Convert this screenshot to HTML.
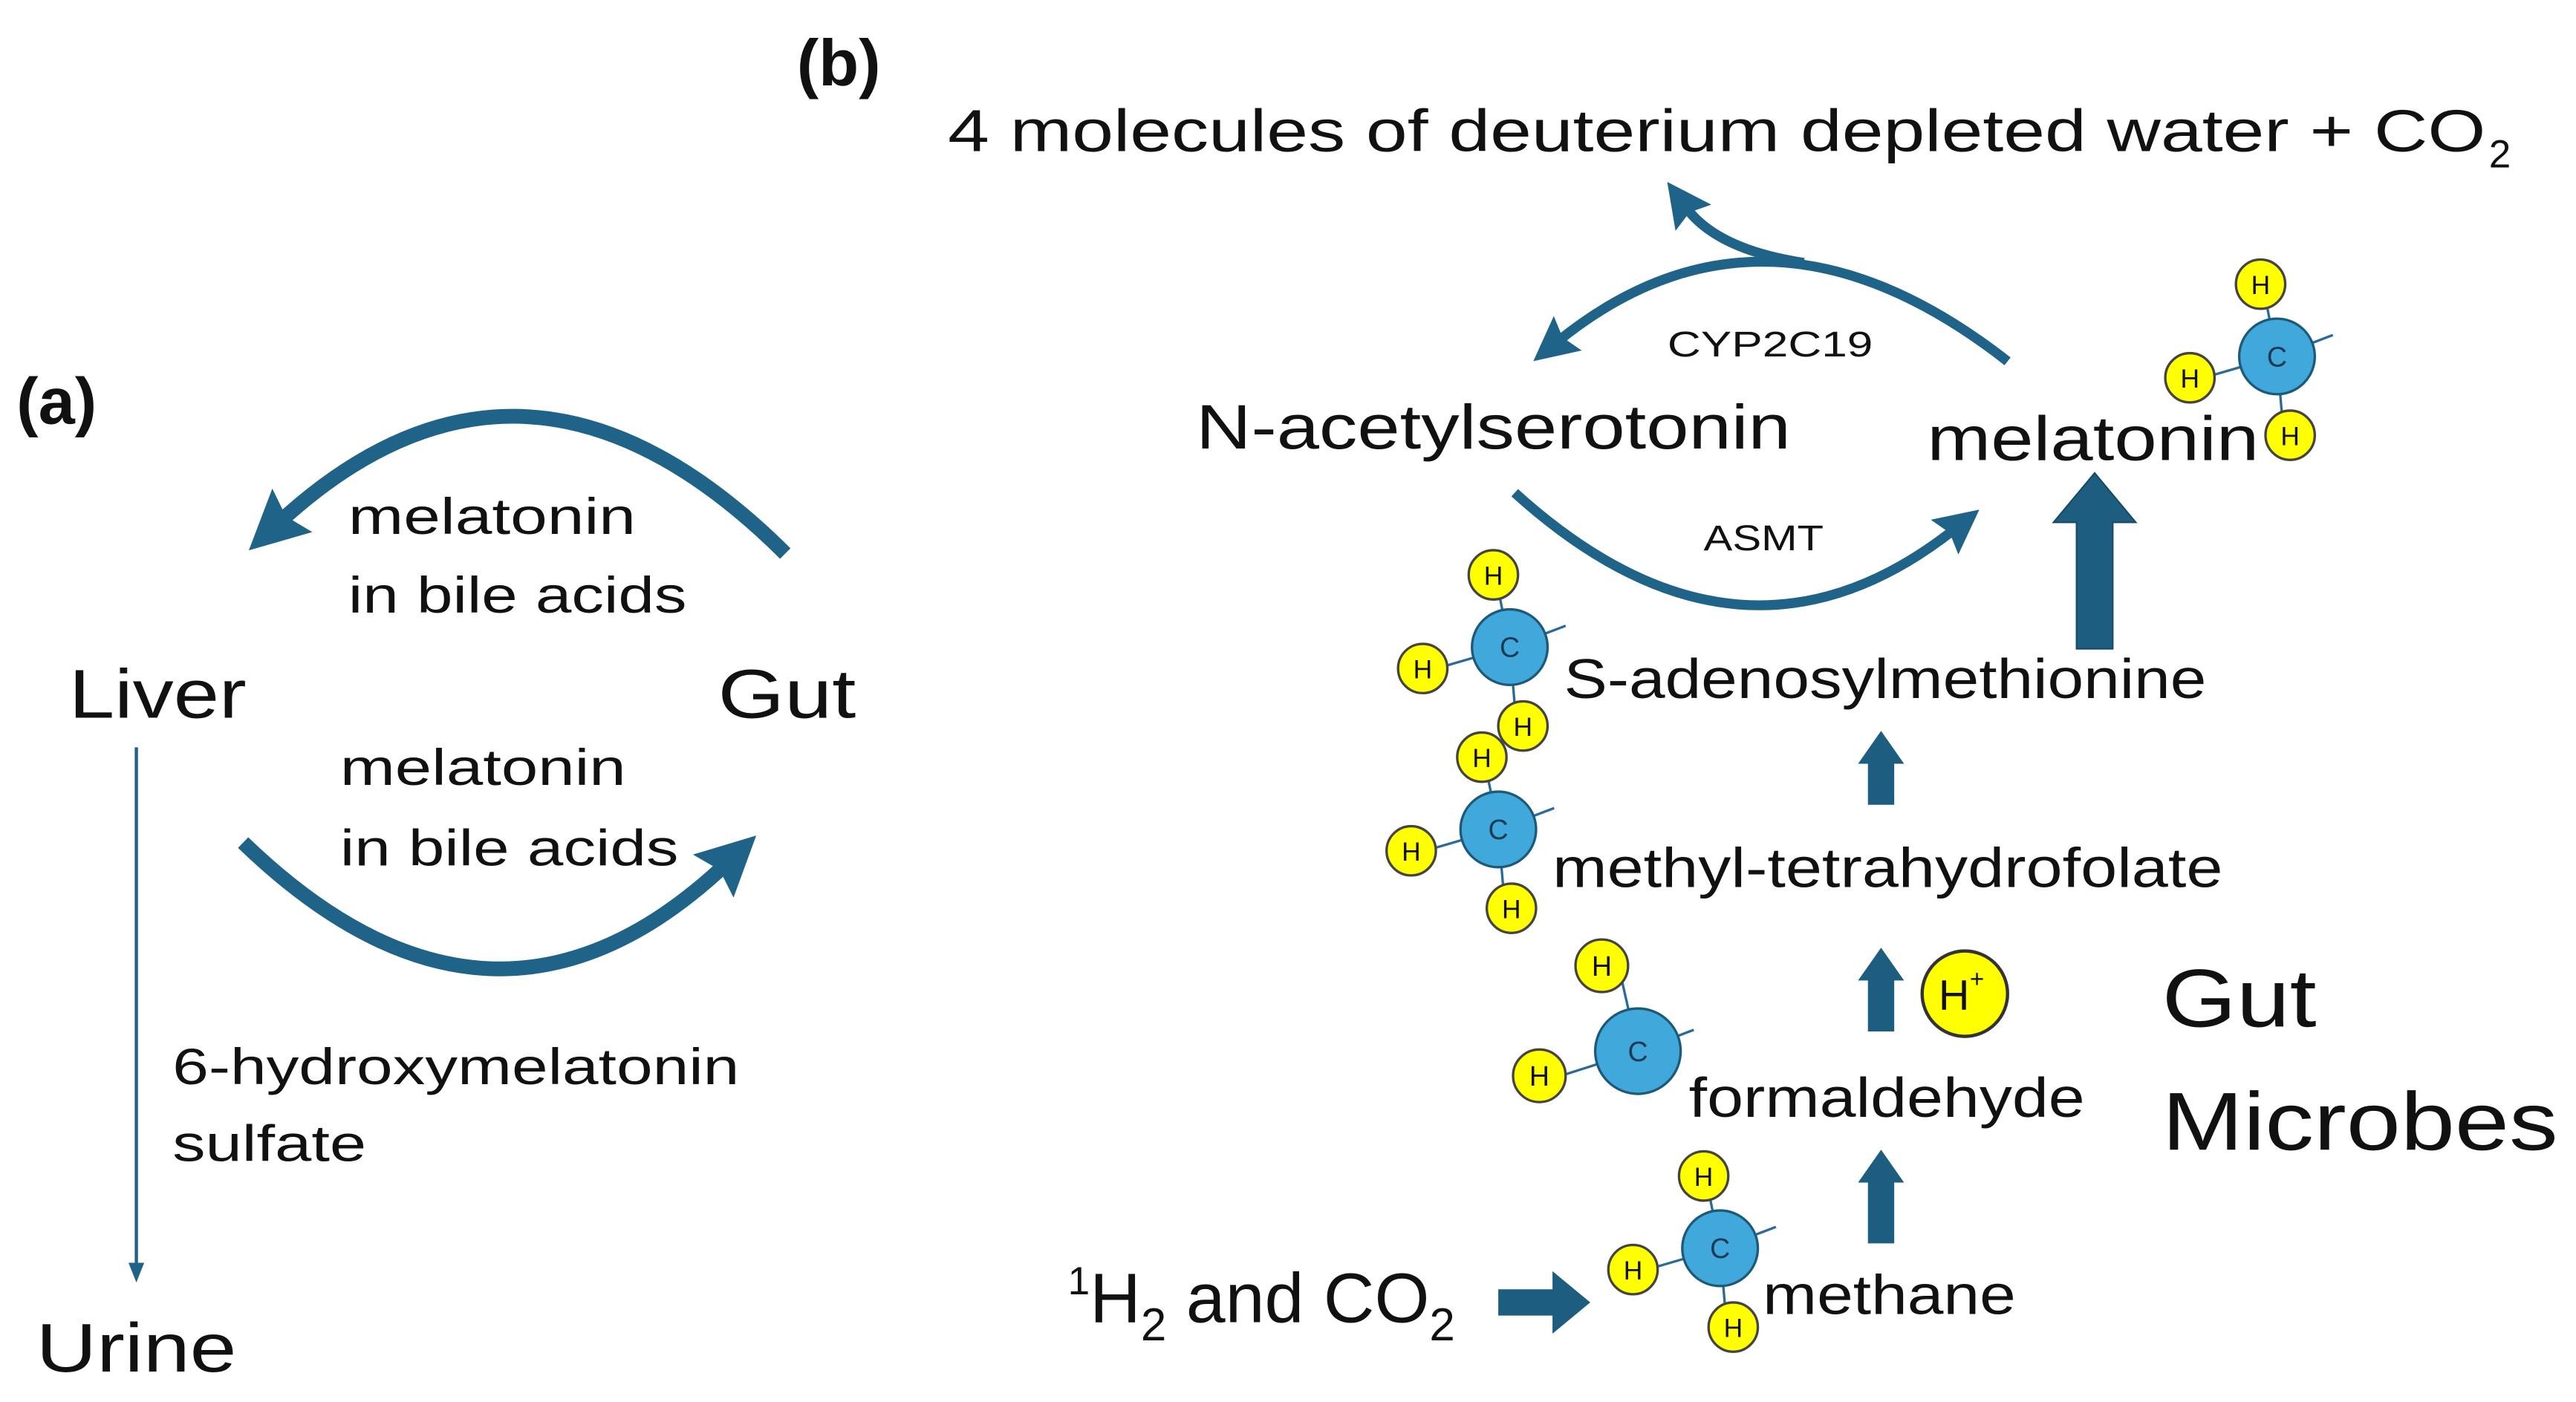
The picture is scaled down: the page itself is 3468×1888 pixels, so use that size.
<!DOCTYPE html>
<html><head><meta charset="utf-8"><style>
html,body{margin:0;padding:0;background:#fff;}
svg{display:block;}
text{font-family:"Liberation Sans",sans-serif;fill:#111;}
</style></head><body>
<svg width="3468" height="1888" viewBox="0 0 1568 853.6" xmlns="http://www.w3.org/2000/svg">
<defs>
<marker id="ha" viewBox="0 0 10 10" refX="3" refY="5" markerUnits="userSpaceOnUse" markerWidth="36" markerHeight="36" orient="auto"><path d="M0,0 L10,5 L0,10 L1.5,5 z" fill="#1f6388"/></marker>
<marker id="hb" viewBox="0 0 10 10" refX="3" refY="5" markerUnits="userSpaceOnUse" markerWidth="27" markerHeight="27" orient="auto"><path d="M0,0 L10,5 L0,10 L1.5,5 z" fill="#1f6388"/></marker>
<marker id="ht" viewBox="0 0 10 10" refX="1" refY="5" markerUnits="userSpaceOnUse" markerWidth="12" markerHeight="12" orient="auto"><path d="M0,1 L10,5 L0,9 z" fill="#1f6388"/></marker>
<g id="mol">
<line x1="0" y1="0" x2="-8" y2="-40" stroke="#2a6a9a" stroke-width="1.5"/>
<line x1="0" y1="0" x2="-48" y2="14" stroke="#2a6a9a" stroke-width="1.5"/>
<line x1="0" y1="0" x2="4" y2="47" stroke="#2a6a9a" stroke-width="1.5"/>
<line x1="0" y1="0" x2="34" y2="-13" stroke="#2a6a9a" stroke-width="1.5"/>
<circle cx="0" cy="0" r="23" fill="#41a8dc" stroke="#1d5a78" stroke-width="1.5"/>
<text x="0" y="6" font-size="17" text-anchor="middle" style="fill:#1d3a55">C</text>
<circle cx="-10" cy="-44" r="15" fill="#ffff00" stroke="#444" stroke-width="1.5"/>
<text x="-10" y="-38" font-size="16" text-anchor="middle">H</text>
<circle cx="-53" cy="13" r="15" fill="#ffff00" stroke="#444" stroke-width="1.5"/>
<text x="-53" y="19" font-size="16" text-anchor="middle">H</text>
<circle cx="8" cy="48" r="15" fill="#ffff00" stroke="#444" stroke-width="1.5"/>
<text x="8" y="54" font-size="16" text-anchor="middle">H</text>
</g>
<g id="mol2">
<line x1="0" y1="0" x2="-10" y2="-44" stroke="#2a6a9a" stroke-width="1.5"/>
<line x1="0" y1="0" x2="-50" y2="16" stroke="#2a6a9a" stroke-width="1.5"/>
<line x1="0" y1="0" x2="34" y2="-13" stroke="#2a6a9a" stroke-width="1.5"/>
<circle cx="0" cy="0" r="26" fill="#41a8dc" stroke="#1d5a78" stroke-width="1.5"/>
<text x="0" y="6" font-size="17" text-anchor="middle" style="fill:#1d3a55">C</text>
<circle cx="-22" cy="-52" r="16" fill="#ffff00" stroke="#444" stroke-width="1.5"/>
<text x="-22" y="-46" font-size="17" text-anchor="middle">H</text>
<circle cx="-60" cy="15" r="16" fill="#ffff00" stroke="#444" stroke-width="1.5"/>
<text x="-60" y="21" font-size="17" text-anchor="middle">H</text>
</g>
</defs>

<!-- Panel a -->
<text x="10" y="258" font-size="40" font-weight="bold">(a)</text>
<path d="M478,337 Q320,180 170,318" fill="none" stroke="#1f6388" stroke-width="9" marker-end="url(#ha)"/>
<text x="212" y="325" font-size="31" textLength="175" lengthAdjust="spacingAndGlyphs">melatonin</text>
<text x="212" y="373" font-size="31" textLength="206" lengthAdjust="spacingAndGlyphs">in bile acids</text>
<text x="42" y="437" font-size="42" textLength="108" lengthAdjust="spacingAndGlyphs">Liver</text>
<text x="437" y="437" font-size="42" textLength="84" lengthAdjust="spacingAndGlyphs">Gut</text>
<text x="207" y="478" font-size="31" textLength="174" lengthAdjust="spacingAndGlyphs">melatonin</text>
<text x="207" y="527" font-size="31" textLength="206" lengthAdjust="spacingAndGlyphs">in bile acids</text>
<path d="M148,513 Q300,660 442,526" fill="none" stroke="#1f6388" stroke-width="9" marker-end="url(#ha)"/>
<line x1="83" y1="455" x2="83" y2="770" stroke="#1f6388" stroke-width="2" marker-end="url(#ht)"/>
<text x="105" y="660" font-size="31" textLength="345" lengthAdjust="spacingAndGlyphs">6-hydroxymelatonin</text>
<text x="105" y="707" font-size="31" textLength="118" lengthAdjust="spacingAndGlyphs">sulfate</text>
<text x="22" y="835" font-size="42" textLength="122" lengthAdjust="spacingAndGlyphs">Urine</text>

<!-- Panel b -->
<text x="485" y="52" font-size="40" font-weight="bold">(b)</text>
<text x="577" y="92" font-size="36" textLength="936" lengthAdjust="spacingAndGlyphs">4 molecules of deuterium depleted water + CO</text>
<text x="1515" y="102" font-size="24">2</text>

<path d="M1222,220 Q1075,105 948,208" fill="none" stroke="#1f6388" stroke-width="6" marker-end="url(#hb)"/>
<path d="M1098,160 Q1045,152 1026,126" fill="none" stroke="#1f6388" stroke-width="6" marker-end="url(#hb)"/>
<text x="1015" y="217" font-size="22" textLength="125" lengthAdjust="spacingAndGlyphs">CYP2C19</text>
<text x="728" y="273" font-size="38" textLength="362" lengthAdjust="spacingAndGlyphs">N-acetylserotonin</text>
<text x="1173" y="280" font-size="38" textLength="202" lengthAdjust="spacingAndGlyphs">melatonin</text>
<use href="#mol" x="1386" y="217"/>
<path d="M922,300 Q1060,425 1190,322" fill="none" stroke="#1f6388" stroke-width="6" marker-end="url(#hb)"/>
<text x="1037" y="335" font-size="22" textLength="73" lengthAdjust="spacingAndGlyphs">ASMT</text>

<polygon points="1264,395 1286,395 1286,318 1300,318 1275,288 1250,318 1264,318" fill="#1d5d80" stroke="#174c68" stroke-width="1"/>
<use href="#mol" x="919" y="394"/>
<text x="952" y="425" font-size="34" textLength="391" lengthAdjust="spacingAndGlyphs">S-adenosylmethionine</text>
<polygon points="1137,490 1153,490 1153,465 1159,465 1145,445 1131,465 1137,465" fill="#1d5d80"/>
<use href="#mol" x="912" y="505"/>
<text x="945" y="540" font-size="34" textLength="408" lengthAdjust="spacingAndGlyphs">methyl-tetrahydrofolate</text>
<polygon points="1137,628 1153,628 1153,597 1159,597 1145,577 1131,597 1137,597" fill="#1d5d80"/>
<circle cx="1196" cy="605" r="26" fill="#ffff00" stroke="#333" stroke-width="2"/>
<text x="1180" y="615" font-size="26">H</text><text x="1199" y="601" font-size="15">+</text>
<text x="1316" y="625" font-size="50" textLength="94" lengthAdjust="spacingAndGlyphs">Gut</text>
<text x="1316" y="700" font-size="50" textLength="241" lengthAdjust="spacingAndGlyphs">Microbes</text>
<use href="#mol2" x="997" y="640"/>
<text x="1028" y="680" font-size="34" textLength="241" lengthAdjust="spacingAndGlyphs">formaldehyde</text>
<polygon points="1137,757 1153,757 1153,720 1159,720 1145,700 1131,720 1137,720" fill="#1d5d80"/>
<use href="#mol" x="1047" y="760"/>
<text x="1073" y="800" font-size="34" textLength="154" lengthAdjust="spacingAndGlyphs">methane</text>
<text x="650" y="805" font-size="43"><tspan font-size="24" dy="-17">1</tspan><tspan dy="17">H</tspan><tspan font-size="28" dy="11">2</tspan><tspan dy="-11"> and CO</tspan><tspan font-size="28" dy="11">2</tspan></text>
<polygon points="912,785 945,785 945,774 968,793 945,812 945,801 912,801" fill="#1d5d80"/>
</svg>
</body></html>
